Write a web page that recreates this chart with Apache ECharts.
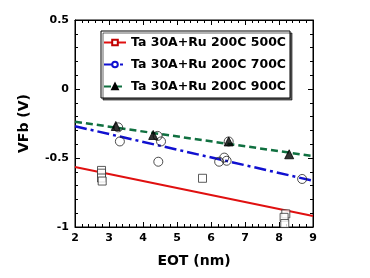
<!DOCTYPE html>
<html><head><meta charset="utf-8">
<script src="https://cdn.jsdelivr.net/npm/echarts@6/dist/echarts.min.js"></script>
<style>html,body{margin:0;padding:0;background:#fff}#c{width:370px;height:278px}</style>
</head><body><div id="c"></div>
<script>
var seriesNames = ['Ta 30A+Ru 200C 500C', 'Ta 30A+Ru 200C 700C', 'Ta 30A+Ru 200C 900C'];
var pts500 = [[2.78,-0.59],[2.78,-0.61],[2.78,-0.645],[2.8,-0.667],[5.75,-0.647],[8.2,-0.905],[8.15,-0.93],[8.17,-0.975]];
var pts700 = [[3.27,-0.278],[3.32,-0.38],[4.43,-0.34],[4.53,-0.38],[4.45,-0.527],[6.24,-0.527],[6.39,-0.497],[6.46,-0.52],[6.52,-0.38],[8.68,-0.652]];
var pts900 = [[3.2,-0.268],[4.3,-0.333],[6.52,-0.38],[8.3,-0.473]];
var fit500 = [[2,-0.565],[9,-0.92]];
var fit700 = [[2,-0.27],[9,-0.665]];
var fit900 = [[2,-0.237],[9,-0.486]];
var xTicks = [2,3,4,5,6,7,8,9];
var yTicks = [-1,-0.5,0,0.5];

var F = 'DejaVu Sans';
var chart = echarts.init(document.getElementById('c'));
function axisCommon(showLabel){
  return {
    axisLine:{show:true,onZero:false,lineStyle:{color:'#000',width:1}},
    axisTick:{show:true,inside:true,length:5,lineStyle:{color:'#000'}},
    minorTick:{show:true,splitNumber:5,length:3,lineStyle:{color:'#000'}},
    splitLine:{show:false},
    axisLabel:{show:showLabel,color:'#000',fontFamily:F,fontWeight:'bold',fontSize:11}
  };
}
var xb = Object.assign(axisCommon(true),{type:'value',position:'bottom',min:xTicks[0],max:xTicks[xTicks.length-1],interval:1,
  name:'EOT (nm)',nameLocation:'middle',nameGap:27,nameTextStyle:{color:'#000',fontFamily:F,fontWeight:'bold',fontSize:14}});
xb.axisLabel.margin=6;
var xt = Object.assign(axisCommon(false),{type:'value',position:'top',min:xTicks[0],max:xTicks[xTicks.length-1],interval:1});
var yl = Object.assign(axisCommon(true),{type:'value',position:'left',min:yTicks[0],max:yTicks[yTicks.length-1],interval:0.5,
  name:'VFb (V)',nameLocation:'middle',nameGap:44,nameTextStyle:{color:'#000',fontFamily:F,fontWeight:'bold',fontSize:14}});
yl.axisLabel.margin=6;
var yr = Object.assign(axisCommon(false),{type:'value',position:'right',min:yTicks[0],max:yTicks[yTicks.length-1],interval:0.5});

chart.setOption({
  animation:false,
  backgroundColor:'#fff',
  grid:{left:75,right:57,top:20,bottom:51,show:true,borderColor:'#000',borderWidth:1,backgroundColor:'transparent'},
  legend:{
    data:seriesNames, orient:'vertical', left:101, top:31,
    backgroundColor:'#fff', borderColor:'#000', borderWidth:1,
    shadowColor:'rgba(0,0,0,0.6)', shadowOffsetX:2, shadowOffsetY:2, shadowBlur:0,
    padding:[5,4,5,2], itemGap:9, itemWidth:22, itemHeight:7,
    textStyle:{color:'#000',fontFamily:F,fontWeight:'bold',fontSize:12.5}
  },
  xAxis:[xb,xt],
  yAxis:[yl,yr],
  series:[
    {name:seriesNames[0],type:'line',data:fit500,showSymbol:false,symbol:'rect',symbolSize:7,
      lineStyle:{color:'#e01010',width:2},itemStyle:{color:'#fff',borderColor:'#c00000',borderWidth:1},z:2},
    {name:seriesNames[1],type:'line',data:fit700,showSymbol:false,symbol:'circle',symbolSize:7,
      lineStyle:{color:'#1010d0',width:2.5,type:[12,4,3,4]},itemStyle:{color:'#fff',borderColor:'#1010d0',borderWidth:1},z:2},
    {name:seriesNames[2],type:'line',data:fit900,showSymbol:false,symbol:'triangle',symbolSize:7,
      lineStyle:{color:'#107040',width:2.5,type:[7,4]},itemStyle:{color:'#000',borderColor:'#000',borderWidth:1},z:2},
    {type:'scatter',data:pts500,symbol:'rect',symbolSize:8,itemStyle:{color:'#fff',borderColor:'#333',borderWidth:1},z:3},
    {type:'scatter',data:pts700,symbol:'circle',symbolSize:9,itemStyle:{color:'rgba(255,255,255,0)',borderColor:'#222',borderWidth:1},z:3},
    {type:'scatter',data:pts900,symbol:'triangle',symbolSize:9,itemStyle:{color:'#000',borderColor:'#000',borderWidth:1},z:4}
  ]
});
</script></body></html>
